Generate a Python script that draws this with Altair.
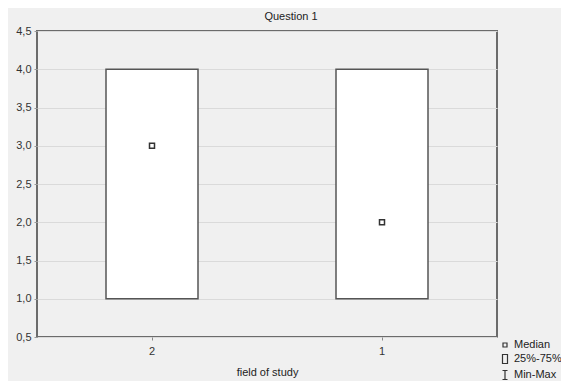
import altair as alt
import pandas as pd

# ---- data ----
categories = ["2", "1"]
q1_values = [1.0, 1.0]
q3_values = [4.0, 4.0]
medians = [3.0, 2.0]
mins = [1.0, 1.0]
maxs = [4.0, 4.0]
y_ticks = [0.5, 1.0, 1.5, 2.0, 2.5, 3.0, 3.5, 4.0, 4.5]
legend_items = ["Median", "25%-75%", "Min-Max"]

df = pd.DataFrame({
    "field": categories,
    "q1": q1_values,
    "q3": q3_values,
    "median": medians,
    "min": mins,
    "max": maxs,
})
leg = pd.DataFrame({"item": legend_items})

FONT = "Liberation Sans"
DARK = "#555555"

x_enc = alt.X(
    "field:N",
    sort=categories,
    scale=alt.Scale(paddingInner=0, paddingOuter=0),
    axis=alt.Axis(
        title="field of study",
        labelAngle=0,
        tickSize=3,
        tickColor="#888888",
        labelPadding=5,
        titlePadding=10,
        domain=False,
        grid=False,
    ),
)
y_scale = alt.Scale(domain=[0.5, 4.5], nice=False, zero=False)
y_axis = alt.Axis(
    values=y_ticks,
    labelExpr="replace(format(datum.value, '.1f'), '.', ',')",
    title=None,
    grid=True,
    gridColor="#dadada",
    gridWidth=1,
    tickSize=3,
    tickColor="#999999",
    labelPadding=3,
    domain=False,
)

base = alt.Chart(df)

whisker = base.mark_rule(color=DARK, strokeWidth=1).encode(
    x=x_enc,
    y=alt.Y("min:Q", scale=y_scale, axis=y_axis),
    y2="max:Q",
)

box = base.mark_bar(
    fill="white", stroke=DARK, strokeWidth=1.5, width=alt.RelativeBandSize(0.4)
).encode(
    x=x_enc,
    y=alt.Y("q1:Q", scale=y_scale, axis=y_axis),
    y2="q3:Q",
)

median = base.mark_square(
    size=25, filled=True, fill="white", stroke="#333333", strokeWidth=1.5, opacity=1
).encode(
    x=x_enc,
    y=alt.Y("median:Q", scale=y_scale, axis=y_axis),
)

shape_paths = [
    "M-0.4,-0.4H0.4V0.4H-0.4Z",
    "M-0.5,-0.9H0.5V0.9H-0.5Z",
    "M-0.5,-0.9H0.5M0,-0.9V0.9M-0.5,0.9H0.5",
]

legend_layer = alt.Chart(leg).mark_point(opacity=0).encode(
    shape=alt.Shape(
        "item:N",
        sort=legend_items,
        scale=alt.Scale(domain=legend_items, range=shape_paths),
        legend=alt.Legend(
            title=None,
            orient="none",
            legendX=462,
            legendY=308,
            symbolFillColor="white",
            symbolStrokeColor="#333333",
            symbolStrokeWidth=1.2,
            symbolOpacity=1,
            symbolSize=100,
            labelFontSize=11,
            labelFont=FONT,
            labelColor="#222222",
            labelOffset=3,
            rowPadding=2,
            padding=0,
        ),
    )
)

chart = (
    alt.layer(whisker, box, median, legend_layer)
    .properties(
        width=460,
        height=306,
        title=alt.TitleParams(
            "Question 1",
            fontSize=11,
            fontWeight="normal",
            font=FONT,
            color="#222222",
            anchor="middle",
            offset=3,
            dx=24,
        ),
        padding={"left": 29, "top": 23, "right": 64, "bottom": 44},
        autosize=alt.AutoSizeParams(type="none"),
        background="#f0f0f0",
    )
    .configure_view(fill="white", stroke="#6b6b6b", strokeWidth=2)
    .configure_axis(
        labelFont=FONT,
        labelFontSize=11,
        labelColor="#333333",
        titleFont=FONT,
        titleFontSize=11,
        titleFontWeight="normal",
        titleColor="#222222",
    )
)

chart.save("out.html", embed_options={"renderer": "svg", "actions": False})
